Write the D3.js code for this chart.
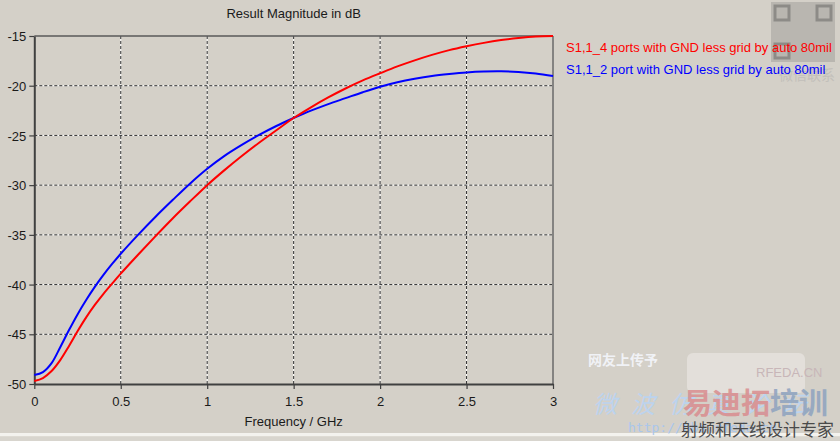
<!DOCTYPE html>
<html>
<head>
<meta charset="utf-8">
<script src="https://cdn.jsdelivr.net/npm/d3@7/dist/d3.min.js"></script>
<style>
html,body{margin:0;padding:0;background:#d4d0c8;}
svg{display:block;}
</style>
</head>
<body>
<svg id="chart" width="840" height="441"></svg>
<script>
// ---- data ----
const freq = [0, 0.05, 0.1, 0.15, 0.2, 0.25, 0.3, 0.35, 0.4, 0.45,
  0.5, 0.6, 0.7, 0.8, 0.9, 1.0, 1.1, 1.2, 1.3, 1.4, 1.5, 1.6, 1.7, 1.8, 1.9,
  2.0, 2.1, 2.2, 2.3, 2.4, 2.5, 2.6, 2.7, 2.8, 2.9, 3.0];
const s11_4ports = [-49.7, -49.4, -48.7, -47.6, -46.2, -44.7, -43.3, -42.05, -40.93, -39.9,
  -38.9, -37.0, -35.15, -33.35, -31.65, -30.0, -28.49, -27.07, -25.73, -24.48, -23.25, -22.17, -21.18, -20.28, -19.47,
  -18.75, -18.06, -17.45, -16.90, -16.42, -16.03, -15.69, -15.41, -15.20, -15.05, -15.0];
const s11_2port = [-49.1, -48.8, -47.9, -46.3, -44.6, -43.0, -41.55, -40.23, -39.03, -37.93,
  -36.9, -35.0, -33.2, -31.5, -29.85, -28.35, -27.05, -25.95, -24.95, -24.05, -23.25, -22.5, -21.85, -21.25, -20.65,
  -20.1, -19.65, -19.3, -19.02, -18.82, -18.66, -18.57, -18.55, -18.62, -18.78, -19.03];
const seriesNames = ["S1,1_4 ports with GND less grid by auto 80mil", "S1,1_2 port with GND less grid by auto 80mil"];
const seriesColors = ["#ff0000", "#0000ff"];
const xTicks = [0, 0.5, 1, 1.5, 2, 2.5, 3];
const xTickLabels = ["0", "0.5", "1", "1.5", "2", "2.5", "3"];
const yTicks = [-50, -45, -40, -35, -30, -25, -20, -15];
const yTickLabels = ["-50", "-45", "-40", "-35", "-30", "-25", "-20", "-15"];
const title = "Result Magnitude in dB";
const xLabel = "Frequency / GHz";

// ---- layout ----
const svg = d3.select("#chart");
const FONT = "'Liberation Sans', Arial, sans-serif";
const cjk = "'Noto Sans CJK SC', sans-serif";
const L = 34.3, R = 553, T = 36, B = 384;
const x = d3.scaleLinear().domain([0, 3]).range([L, R]);
const y = d3.scaleLinear().domain([-50, -15]).range([B, T]);

svg.append("rect").attr("width", 840).attr("height", 441).attr("fill", "#d4d0c8");
// bottom light strip
svg.append("rect").attr("x", 0).attr("y", 433).attr("width", 840).attr("height", 3.5).attr("fill", "#f3f2ee");
svg.append("rect").attr("x", 0).attr("y", 436.5).attr("width", 840).attr("height", 4.5).attr("fill", "#d8d5ce");

// watermark QR-ish block
const wm = svg.append("g");
wm.append("rect").attr("x", 771).attr("y", 2).attr("width", 64).attr("height", 60).attr("fill", "#b4b1ab").attr("opacity", 0.85);
[[775, 6], [817, 6], [775, 44]].forEach(p => {
  wm.append("rect").attr("x", p[0]).attr("y", p[1]).attr("width", 14).attr("height", 14).attr("fill", "none").attr("stroke", "#8d8b87").attr("stroke-width", 3);
});
wm.append("text").attr("x", 835).attr("y", 80).attr("text-anchor", "end")
  .attr("font-family", cjk).attr("font-size", 14).attr("fill", "#c2bfba").text("微信联系");

// grid
const gx = xTicks.filter(v => v > 0 && v < 3);
const gy = yTicks.filter(v => v > -50 && v < -15);
const grid = svg.append("g");
gx.forEach(v => {
  grid.append("line").attr("x1", x(v)).attr("x2", x(v)).attr("y1", T).attr("y2", B).attr("stroke", "#ffffff").attr("stroke-width", 1);
  grid.append("line").attr("x1", x(v)).attr("x2", x(v)).attr("y1", T).attr("y2", B).attr("stroke", "#303030").attr("stroke-width", 1).attr("stroke-dasharray", "3,2");
});
gy.forEach(v => {
  grid.append("line").attr("x1", L).attr("x2", R).attr("y1", y(v)).attr("y2", y(v)).attr("stroke", "#ffffff").attr("stroke-width", 1);
  grid.append("line").attr("x1", L).attr("x2", R).attr("y1", y(v)).attr("y2", y(v)).attr("stroke", "#303030").attr("stroke-width", 1).attr("stroke-dasharray", "3,2");
});

// frame
svg.append("line").attr("x1", L).attr("x2", R).attr("y1", T).attr("y2", T).attr("stroke", "#5a5a5a").attr("stroke-width", 1.5);
svg.append("line").attr("x1", R).attr("x2", R).attr("y1", T).attr("y2", B).attr("stroke", "#6a6a6a").attr("stroke-width", 1.5);

// axes
const xAxis = d3.axisBottom(x).tickValues(xTicks).tickFormat((d, i) => xTickLabels[i]).tickSize(5).tickSizeOuter(0).tickPadding(8);
const yAxis = d3.axisLeft(y).tickValues(yTicks).tickFormat((d, i) => yTickLabels[i]).tickSize(5).tickSizeOuter(0).tickPadding(3);
const gX = svg.append("g").attr("transform", `translate(0,${B})`).call(xAxis);
const gY = svg.append("g").attr("transform", `translate(${L},0)`).call(yAxis);
[gX, gY].forEach(g => {
  g.select(".domain").attr("stroke", "#404040").attr("stroke-width", 2);
  g.selectAll(".tick line").attr("stroke", "#404040").attr("stroke-width", 1.2);
  g.selectAll(".tick text").attr("font-family", FONT).attr("font-size", 13).attr("fill", "#1a1a1a");
});
gX.selectAll(".tick text").attr("dy", "0.71em");
gY.selectAll(".tick text").attr("dy", "0.36em");

// lines
const line = d3.line().x((d, i) => x(freq[i])).y(d => y(d)).curve(d3.curveCatmullRom.alpha(0.5));
[[s11_2port, seriesColors[1]], [s11_4ports, seriesColors[0]]].forEach(([s, col]) => {
  svg.append("path").datum(s).attr("d", line).attr("fill", "none")
    .attr("stroke", col).attr("stroke-width", 2).attr("stroke-linejoin", "round");
});

// titles
svg.append("text").attr("x", (L + R) / 2).attr("y", 18).attr("text-anchor", "middle")
  .attr("font-family", FONT).attr("font-size", 13).attr("fill", "#1a1a1a").text(title);
svg.append("text").attr("x", (L + R) / 2).attr("y", 426).attr("text-anchor", "middle")
  .attr("font-family", FONT).attr("font-size", 13).attr("fill", "#1a1a1a").text(xLabel);

// legend
seriesNames.forEach((n, i) => {
  svg.append("text").attr("x", 566).attr("y", 52 + i * 22)
    .attr("font-family", FONT).attr("font-size", 13).attr("fill", seriesColors[i]).text(n);
});

// bottom-right watermark texts
wm.append("text").attr("x", 588).attr("y", 365).attr("font-family", cjk).attr("font-size", 14).attr("font-weight", "bold")
  .attr("fill", "#f4f6fb").attr("opacity", 0.9).text("网友上传予");
wm.append("text").attr("x", 593).attr("y", 413).attr("font-family", cjk).attr("font-size", 24).attr("font-style", "italic")
  .attr("fill", "#bcd3ee").attr("letter-spacing", 14).text("微波仿真论坛");
wm.append("text").attr("x", 628).attr("y", 432).attr("font-family", "'DejaVu Sans Mono', monospace").attr("font-size", 13)
  .attr("fill", "#a9c6ec").text("http://bbs.rfeda.cn");
wm.append("rect").attr("x", 687).attr("y", 353).attr("width", 118).attr("height", 40).attr("rx", 6).attr("fill", "#eceae6").attr("opacity", 0.6);
wm.append("text").attr("x", 756).attr("y", 377).attr("font-family", FONT).attr("font-size", 13)
  .attr("fill", "#c8b6b8").text("RFEDA.CN");
wm.append("text").attr("x", 683).attr("y", 414).attr("font-family", cjk).attr("font-size", 29).attr("font-weight", "bold")
  .attr("fill", "#d98d8f").attr("opacity", 0.85).text("易迪拓");
wm.append("text").attr("x", 770).attr("y", 414).attr("font-family", cjk).attr("font-size", 29).attr("font-weight", "bold")
  .attr("fill", "#8ea3bf").attr("opacity", 0.85).text("培训");
wm.append("text").attr("x", 681).attr("y", 436).attr("font-family", cjk).attr("font-size", 17)
  .attr("fill", "#4a4a4a").text("射频和天线设计专家");
</script>
</body>
</html>
